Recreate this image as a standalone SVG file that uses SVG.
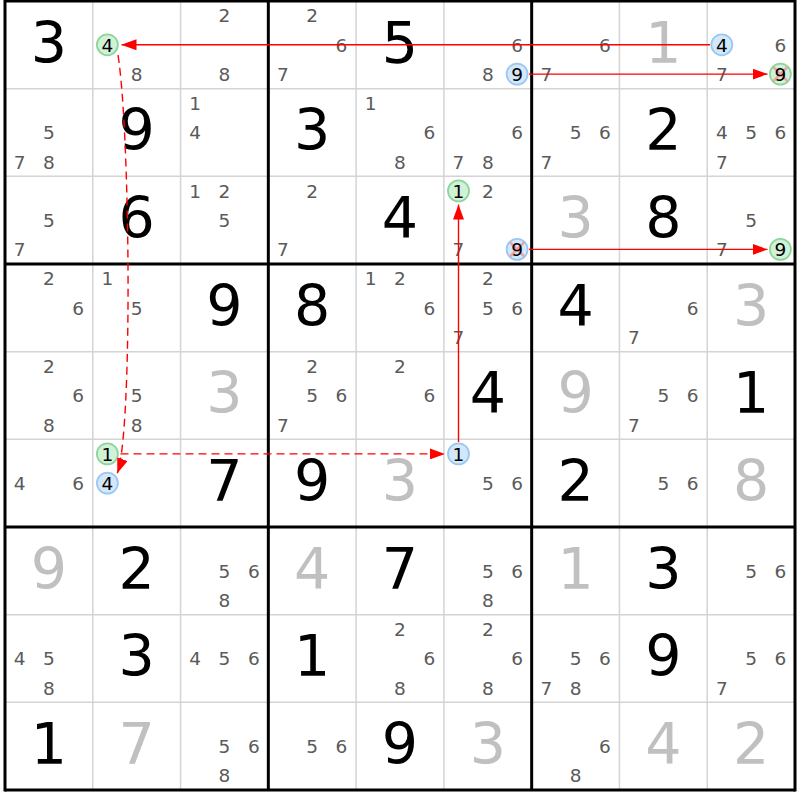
<svg xmlns="http://www.w3.org/2000/svg" width="800" height="800" viewBox="0 0 800 800">
<style>
text{font-family:"DejaVu Sans",Verdana,sans-serif;text-anchor:middle}
.b{font-size:57px;fill:#000}
.g{font-size:57px;fill:#c0c0c0}
.c{font-size:18.5px;fill:#5a5a5a}
.k{font-size:18.5px;fill:#000}
.cg{fill:#d2f2d8;stroke:#8cd69c;stroke-width:1.8}
.cb{fill:#d4e8fb;stroke:#9ac8f2;stroke-width:1.8}
.x{stroke:#f2a0a0;stroke-width:2.5}
.thin{stroke:#d4d4d4;stroke-width:1.5}
.thick{stroke:#000;stroke-width:3}
.link{stroke:#ff0000;stroke-width:1.4;fill:none}
.dash{stroke-dasharray:8 5}
</style>
<defs>
<marker id="ah" markerUnits="userSpaceOnUse" markerWidth="15" markerHeight="11" refX="15" refY="5.5" orient="auto">
<path d="M0,0 L15,5.5 L0,11 z" fill="#ff0000"/>
</marker>
</defs>
<rect x="0" y="0" width="800" height="800" fill="#fff"/>
<g id="grid">
<g class="thin">
<line x1="92.78" y1="1" x2="92.78" y2="790"/><line x1="180.56" y1="1" x2="180.56" y2="790"/>
<line x1="356.11" y1="1" x2="356.11" y2="790"/><line x1="443.89" y1="1" x2="443.89" y2="790"/>
<line x1="619.44" y1="1" x2="619.44" y2="790"/><line x1="707.22" y1="1" x2="707.22" y2="790"/>
<line x1="5" y1="88.67" x2="795" y2="88.67"/><line x1="5" y1="176.33" x2="795" y2="176.33"/>
<line x1="5" y1="351.67" x2="795" y2="351.67"/><line x1="5" y1="439.33" x2="795" y2="439.33"/>
<line x1="5" y1="614.67" x2="795" y2="614.67"/><line x1="5" y1="702.33" x2="795" y2="702.33"/>
</g>
<g class="thick">
<line x1="5" y1="-0.5" x2="5" y2="791.5"/><line x1="268.33" y1="1" x2="268.33" y2="790"/>
<line x1="531.67" y1="1" x2="531.67" y2="790"/><line x1="795" y1="-0.5" x2="795" y2="791.5"/>
<line x1="5" y1="1" x2="795" y2="1"/><line x1="5" y1="264" x2="795" y2="264"/>
<line x1="5" y1="527" x2="795" y2="527"/><line x1="5" y1="790" x2="795" y2="790"/>
</g>
</g>
<g id="r1c1"><text class="b" x="48.9" y="62.5">3</text></g>
<g id="r1c2"><circle class="cg" cx="107.4" cy="44.8" r="10.5"/><text class="k" x="107.4" y="51.6">4</text><text class="c" x="136.7" y="80.9">8</text></g>
<g id="r1c3"><text class="c" x="224.5" y="22.4">2</text><text class="c" x="224.5" y="80.9">8</text></g>
<g id="r1c4"><text class="c" x="312.2" y="22.4">2</text><text class="c" x="341.5" y="51.6">6</text><text class="c" x="282.9" y="80.9">7</text></g>
<g id="r1c5"><text class="b" x="400" y="62.5">5</text></g>
<g id="r1c6"><text class="c" x="517.1" y="51.6">6</text><text class="c" x="487.8" y="80.9">8</text><circle class="cb" cx="517.1" cy="74.1" r="10.5"/><text class="k" x="517.1" y="80.9">9</text></g>
<g id="r1c7"><text class="c" x="604.9" y="51.6">6</text><text class="c" x="546.3" y="80.9">7</text></g>
<g id="r1c8"><text class="g" x="663.3" y="62.5">1</text></g>
<g id="r1c9"><circle class="cb" cx="721.8" cy="44.8" r="10.5"/><text class="k" x="721.8" y="51.6">4</text><text class="c" x="780.4" y="51.6">6</text><text class="c" x="721.8" y="80.9">7</text><circle class="cg" cx="780.4" cy="74.1" r="10.5"/><path class="x" d="M773.4,67.1 L787.4,81.1 M787.4,67.1 L773.4,81.1"/><text class="k" x="780.4" y="80.9">9</text></g>

<g id="r2c1"><text class="c" x="48.9" y="139.3">5</text><text class="c" x="19.6" y="168.6">7</text><text class="c" x="48.9" y="168.6">8</text></g>
<g id="r2c2"><text class="b" x="136.7" y="150.2">9</text></g>
<g id="r2c3"><text class="c" x="195.2" y="110.1">1</text><text class="c" x="195.2" y="139.3">4</text></g>
<g id="r2c4"><text class="b" x="312.2" y="150.2">3</text></g>
<g id="r2c5"><text class="c" x="370.7" y="110.1">1</text><text class="c" x="429.3" y="139.3">6</text><text class="c" x="400" y="168.6">8</text></g>
<g id="r2c6"><text class="c" x="517.1" y="139.3">6</text><text class="c" x="458.5" y="168.6">7</text><text class="c" x="487.8" y="168.6">8</text></g>
<g id="r2c7"><text class="c" x="575.6" y="139.3">5</text><text class="c" x="604.9" y="139.3">6</text><text class="c" x="546.3" y="168.6">7</text></g>
<g id="r2c8"><text class="b" x="663.3" y="150.2">2</text></g>
<g id="r2c9"><text class="c" x="721.8" y="139.3">4</text><text class="c" x="751.1" y="139.3">5</text><text class="c" x="780.4" y="139.3">6</text><text class="c" x="721.8" y="168.6">7</text></g>

<g id="r3c1"><text class="c" x="48.9" y="226.9">5</text><text class="c" x="19.6" y="256.2">7</text></g>
<g id="r3c2"><text class="b" x="136.7" y="237.8">6</text></g>
<g id="r3c3"><text class="c" x="195.2" y="197.7">1</text><text class="c" x="224.5" y="197.7">2</text><text class="c" x="224.5" y="226.9">5</text></g>
<g id="r3c4"><text class="c" x="312.2" y="197.7">2</text><text class="c" x="282.9" y="256.2">7</text></g>
<g id="r3c5"><text class="b" x="400" y="237.8">4</text></g>
<g id="r3c6"><circle class="cg" cx="458.5" cy="190.9" r="10.5"/><text class="k" x="458.5" y="197.7">1</text><text class="c" x="487.8" y="197.7">2</text><text class="c" x="458.5" y="256.2">7</text><circle class="cb" cx="517.1" cy="249.4" r="10.5"/><path class="x" d="M510.1,242.4 L524.1,256.4 M524.1,242.4 L510.1,256.4"/><text class="k" x="517.1" y="256.2">9</text></g>
<g id="r3c7"><text class="g" x="575.6" y="237.8">3</text></g>
<g id="r3c8"><text class="b" x="663.3" y="237.8">8</text></g>
<g id="r3c9"><text class="c" x="751.1" y="226.9">5</text><text class="c" x="721.8" y="256.2">7</text><circle class="cg" cx="780.4" cy="249.4" r="10.5"/><text class="k" x="780.4" y="256.2">9</text></g>

<g id="r4c1"><text class="c" x="48.9" y="285.4">2</text><text class="c" x="78.2" y="314.6">6</text></g>
<g id="r4c2"><text class="c" x="107.4" y="285.4">1</text><text class="c" x="136.7" y="314.6">5</text></g>
<g id="r4c3"><text class="b" x="224.5" y="325.5">9</text></g>
<g id="r4c4"><text class="b" x="312.2" y="325.5">8</text></g>
<g id="r4c5"><text class="c" x="370.7" y="285.4">1</text><text class="c" x="400" y="285.4">2</text><text class="c" x="429.3" y="314.6">6</text></g>
<g id="r4c6"><text class="c" x="487.8" y="285.4">2</text><text class="c" x="487.8" y="314.6">5</text><text class="c" x="517.1" y="314.6">6</text><text class="c" x="458.5" y="343.9">7</text></g>
<g id="r4c7"><text class="b" x="575.6" y="325.5">4</text></g>
<g id="r4c8"><text class="c" x="692.6" y="314.6">6</text><text class="c" x="634" y="343.9">7</text></g>
<g id="r4c9"><text class="g" x="751.1" y="325.5">3</text></g>

<g id="r5c1"><text class="c" x="48.9" y="373.1">2</text><text class="c" x="78.2" y="402.3">6</text><text class="c" x="48.9" y="431.6">8</text></g>
<g id="r5c2"><text class="c" x="136.7" y="402.3">5</text><text class="c" x="136.7" y="431.6">8</text></g>
<g id="r5c3"><text class="g" x="224.5" y="413.2">3</text></g>
<g id="r5c4"><text class="c" x="312.2" y="373.1">2</text><text class="c" x="312.2" y="402.3">5</text><text class="c" x="341.5" y="402.3">6</text><text class="c" x="282.9" y="431.6">7</text></g>
<g id="r5c5"><text class="c" x="400" y="373.1">2</text><text class="c" x="429.3" y="402.3">6</text></g>
<g id="r5c6"><text class="b" x="487.8" y="413.2">4</text></g>
<g id="r5c7"><text class="g" x="575.6" y="413.2">9</text></g>
<g id="r5c8"><text class="c" x="663.3" y="402.3">5</text><text class="c" x="692.6" y="402.3">6</text><text class="c" x="634" y="431.6">7</text></g>
<g id="r5c9"><text class="b" x="751.1" y="413.2">1</text></g>

<g id="r6c1"><text class="c" x="19.6" y="489.9">4</text><text class="c" x="78.2" y="489.9">6</text></g>
<g id="r6c2"><circle class="cg" cx="107.4" cy="453.9" r="10.5"/><text class="k" x="107.4" y="460.7">1</text><circle class="cb" cx="107.4" cy="483.1" r="10.5"/><text class="k" x="107.4" y="489.9">4</text></g>
<g id="r6c3"><text class="b" x="224.5" y="500.8">7</text></g>
<g id="r6c4"><text class="b" x="312.2" y="500.8">9</text></g>
<g id="r6c5"><text class="g" x="400" y="500.8">3</text></g>
<g id="r6c6"><circle class="cb" cx="458.5" cy="453.9" r="10.5"/><text class="k" x="458.5" y="460.7">1</text><text class="c" x="487.8" y="489.9">5</text><text class="c" x="517.1" y="489.9">6</text></g>
<g id="r6c7"><text class="b" x="575.6" y="500.8">2</text></g>
<g id="r6c8"><text class="c" x="663.3" y="489.9">5</text><text class="c" x="692.6" y="489.9">6</text></g>
<g id="r6c9"><text class="g" x="751.1" y="500.8">8</text></g>

<g id="r7c1"><text class="g" x="48.9" y="588.5">9</text></g>
<g id="r7c2"><text class="b" x="136.7" y="588.5">2</text></g>
<g id="r7c3"><text class="c" x="224.5" y="577.6">5</text><text class="c" x="253.8" y="577.6">6</text><text class="c" x="224.5" y="606.9">8</text></g>
<g id="r7c4"><text class="g" x="312.2" y="588.5">4</text></g>
<g id="r7c5"><text class="b" x="400" y="588.5">7</text></g>
<g id="r7c6"><text class="c" x="487.8" y="577.6">5</text><text class="c" x="517.1" y="577.6">6</text><text class="c" x="487.8" y="606.9">8</text></g>
<g id="r7c7"><text class="g" x="575.6" y="588.5">1</text></g>
<g id="r7c8"><text class="b" x="663.3" y="588.5">3</text></g>
<g id="r7c9"><text class="c" x="751.1" y="577.6">5</text><text class="c" x="780.4" y="577.6">6</text></g>

<g id="r8c1"><text class="c" x="19.6" y="665.3">4</text><text class="c" x="48.9" y="665.3">5</text><text class="c" x="48.9" y="694.6">8</text></g>
<g id="r8c2"><text class="b" x="136.7" y="676.2">3</text></g>
<g id="r8c3"><text class="c" x="195.2" y="665.3">4</text><text class="c" x="224.5" y="665.3">5</text><text class="c" x="253.8" y="665.3">6</text></g>
<g id="r8c4"><text class="b" x="312.2" y="676.2">1</text></g>
<g id="r8c5"><text class="c" x="400" y="636.1">2</text><text class="c" x="429.3" y="665.3">6</text><text class="c" x="400" y="694.6">8</text></g>
<g id="r8c6"><text class="c" x="487.8" y="636.1">2</text><text class="c" x="517.1" y="665.3">6</text><text class="c" x="487.8" y="694.6">8</text></g>
<g id="r8c7"><text class="c" x="575.6" y="665.3">5</text><text class="c" x="604.9" y="665.3">6</text><text class="c" x="546.3" y="694.6">7</text><text class="c" x="575.6" y="694.6">8</text></g>
<g id="r8c8"><text class="b" x="663.3" y="676.2">9</text></g>
<g id="r8c9"><text class="c" x="751.1" y="665.3">5</text><text class="c" x="780.4" y="665.3">6</text><text class="c" x="721.8" y="694.6">7</text></g>

<g id="r9c1"><text class="b" x="48.9" y="763.8">1</text></g>
<g id="r9c2"><text class="g" x="136.7" y="763.8">7</text></g>
<g id="r9c3"><text class="c" x="224.5" y="752.9">5</text><text class="c" x="253.8" y="752.9">6</text><text class="c" x="224.5" y="782.2">8</text></g>
<g id="r9c4"><text class="c" x="312.2" y="752.9">5</text><text class="c" x="341.5" y="752.9">6</text></g>
<g id="r9c5"><text class="b" x="400" y="763.8">9</text></g>
<g id="r9c6"><text class="g" x="487.8" y="763.8">3</text></g>
<g id="r9c7"><text class="c" x="604.9" y="752.9">6</text><text class="c" x="575.6" y="782.2">8</text></g>
<g id="r9c8"><text class="g" x="663.3" y="763.8">4</text></g>
<g id="r9c9"><text class="g" x="751.1" y="763.8">2</text></g>

<g id="connectors">
<line class="link" x1="710" y1="44.8" x2="121.5" y2="44.8" marker-end="url(#ah)"/>
<line class="link" x1="529" y1="74.1" x2="767.5" y2="74.1" marker-end="url(#ah)"/>
<line class="link" x1="529" y1="249.4" x2="767.5" y2="249.4" marker-end="url(#ah)"/>
<line class="link" x1="458.5" y1="442" x2="458.5" y2="204.5" marker-end="url(#ah)"/>
<line class="link dash" x1="120.5" y1="453.9" x2="445" y2="453.9" marker-end="url(#ah)"/>
<path class="link dash" d="M118,55 C130,130 133,430 117.3,473.3" marker-end="url(#ah)"/>
</g>
</svg>
